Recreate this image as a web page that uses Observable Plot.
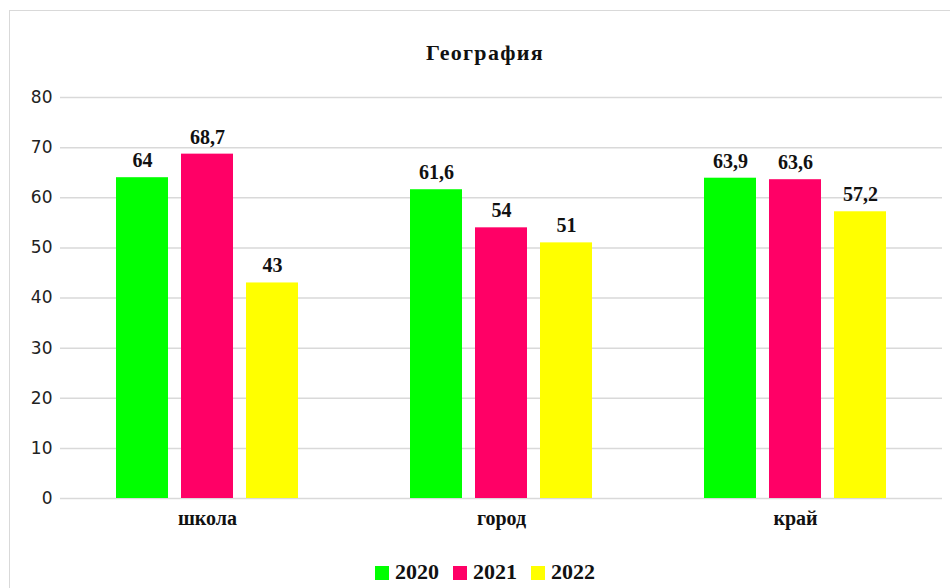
<!DOCTYPE html>
<html>
<head>
<meta charset="utf-8">
<script src="https://cdn.jsdelivr.net/npm/d3@7"></script>
<script src="https://cdn.jsdelivr.net/npm/@observablehq/plot@0.6"></script>
<style>
  html, body { margin: 0; padding: 0; background: #fff; }
  #wrap { position: relative; width: 950px; height: 588px; overflow: hidden; }
  #frame { position: absolute; left: 9px; top: 10px; width: 960px; height: 600px; border: 1.5px solid #d9d9d9; box-sizing: border-box; }
  #title { position: absolute; left: 0; width: 970px; top: 40px; text-align: center;
           font-family: "Liberation Serif", serif; font-weight: bold; font-size: 22px; letter-spacing: 1.3px; color: #111; }
  #chart { position: absolute; left: 0; top: 0; }
  #legend { position: absolute; left: 0; width: 970px; top: 559px; line-height: 25px; text-align: center;
            font-family: "Liberation Serif", serif; font-weight: bold; font-size: 22px; color: #111; }
  #legend span.item { margin: 0 7px; white-space: nowrap; }
  #legend span.sw { display: inline-block; width: 14px; height: 14px; margin-right: 6px; vertical-align: -1px; }
</style>
</head>
<body>
<div id="wrap">
  <div id="frame"></div>
  <div id="chart"></div>
  <div id="title">География</div>
  <div id="legend"></div>
</div>
<script>
const chartTitle = "География";
const categories = ["школа", "город", "край"];
const years = ["2020", "2021", "2022"];
const values2020 = [64, 61.6, 63.9];
const values2021 = [68.7, 54, 63.6];
const values2022 = [43, 51, 57.2];
const colors = ["#00ff00", "#ff0066", "#ffff00"];
const yTicks = [0, 10, 20, 30, 40, 50, 60, 70, 80];

const series = [values2020, values2021, values2022];
const data = [];
categories.forEach((c, i) => {
  years.forEach((y, j) => {
    data.push({category: c, year: y, value: series[j][i]});
  });
});

const fmt = v => String(v).replace(".", ",");

const plot = Plot.plot({
  width: 950,
  height: 545,
  marginTop: 97,
  marginBottom: 47,
  marginLeft: 59,
  marginRight: 8,
  style: {background: "transparent", overflow: "visible"},
  fx: {domain: categories, padding: 0, label: null},
  x: {domain: years, paddingInner: 0.206, paddingOuter: 0.85, axis: null},
  y: {domain: [0, 80], ticks: yTicks, label: null},
  color: {domain: years, range: colors},
  marks: [
    Plot.ruleY(yTicks, {stroke: "#d9d9d9", strokeWidth: 1.5}),
    Plot.barY(data, {fx: "category", x: "year", y: "value", fill: "year"}),
    Plot.text(data, {fx: "category", x: "year", y: "value", text: d => fmt(d.value),
      dy: -17, fontFamily: "Liberation Serif", fontWeight: "bold", fontSize: 20, fill: "#111"}),
    Plot.axisY({ticks: yTicks, tickSize: 0, tickPadding: 8, fontSize: 17,
      fontFamily: "DejaVu Sans", fill: "#222", label: null}),
    Plot.axisFx({anchor: "bottom", tickSize: 0, tickPadding: 12, fontSize: 20, fontFamily: "Liberation Serif",
      fontWeight: "bold", fill: "#111", label: null})
  ]
});
document.getElementById("chart").appendChild(plot);

const legend = document.getElementById("legend");
years.forEach((y, j) => {
  const item = document.createElement("span");
  item.className = "item";
  const sw = document.createElement("span");
  sw.className = "sw";
  sw.style.background = colors[j];
  item.appendChild(sw);
  item.appendChild(document.createTextNode(y));
  legend.appendChild(item);
});
</script>
</body>
</html>
